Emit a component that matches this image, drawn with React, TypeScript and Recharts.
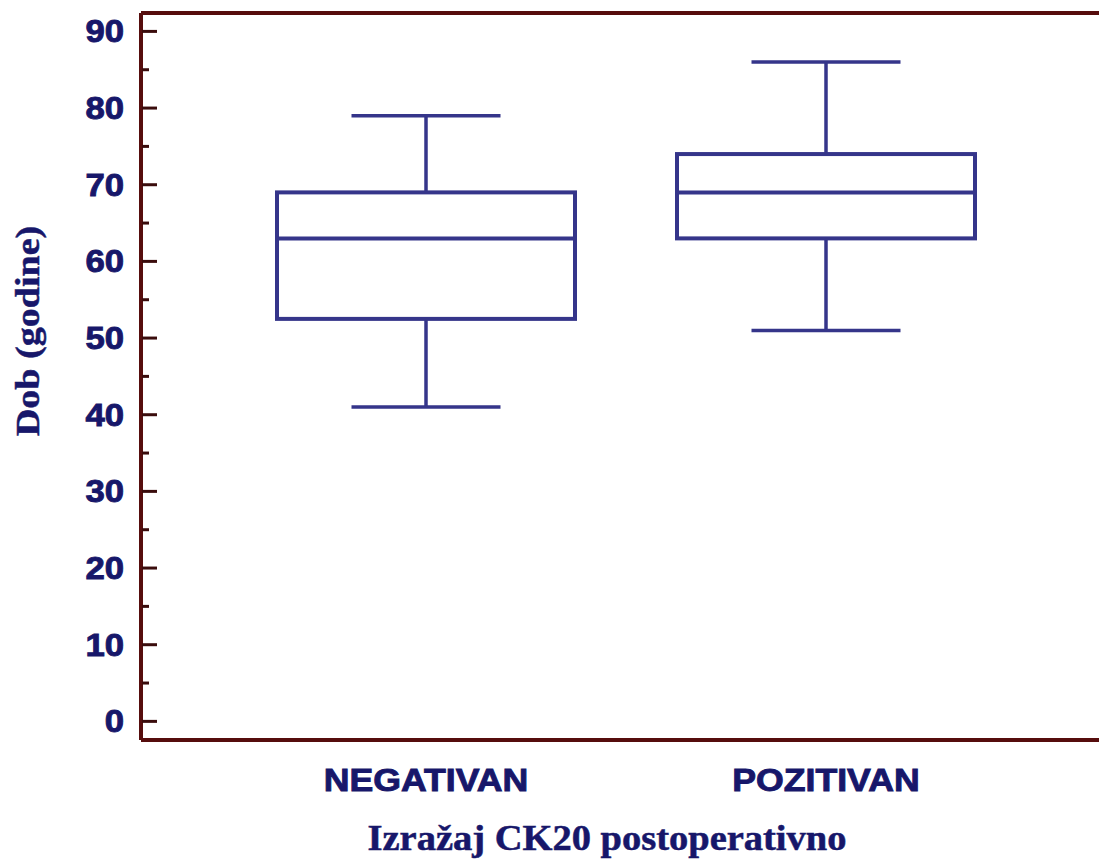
import React from 'react';
import { ComposedChart, Bar, XAxis, YAxis, ReferenceLine } from 'recharts';

// Age (years) by postoperative CK20 expression — box & whisker summary
const groups = ['NEGATIVAN', 'POZITIVAN'];
const minimum = [41, 51];
const lowerQuartile = [52.5, 63];
const median = [63, 69];
const upperQuartile = [69, 74];
const maximum = [79, 86];

const yTicks = [0, 5, 10, 15, 20, 25, 30, 35, 40, 45, 50, 55, 60, 65, 70, 75, 80, 85, 90];
const yDomain: [number, number] = [-2.43, 92.4];

const data = groups.map((name, i) => ({
  name,
  range: [minimum[i], maximum[i]],
  min: minimum[i],
  q1: lowerQuartile[i],
  med: median[i],
  q3: upperQuartile[i],
  max: maximum[i],
}));

const NAVY = '#17176a';
const BOX = '#35358a';
const FRAME = '#560d0d';
const TICK = '#3a0c0c';
const AXIS_X = 141;
const SANS = '"Liberation Sans", Arial, sans-serif';
const SERIF = '"Liberation Serif", "Times New Roman", serif';

function BoxShape(props: any) {
  const { x, y, width, height, index } = props;
  const d = props.payload ?? data[index];
  const top = Math.min(y, y + height);
  const h = Math.abs(height);
  const toY = (v: number) => top + ((d.max - v) / (d.max - d.min)) * h;
  const cx = x + width / 2;
  const cap = width / 4;
  const yq1 = toY(d.q1);
  const yq3 = toY(d.q3);
  return (
    <g fill="none" stroke={BOX}>
      <line x1={cx} x2={cx} y1={toY(d.max)} y2={yq3} strokeWidth={3.5} />
      <line x1={cx} x2={cx} y1={yq1} y2={toY(d.min)} strokeWidth={3.5} />
      <line x1={cx - cap} x2={cx + cap} y1={toY(d.max)} y2={toY(d.max)} strokeWidth={3.5} />
      <line x1={cx - cap} x2={cx + cap} y1={toY(d.min)} y2={toY(d.min)} strokeWidth={3.5} />
      <rect x={x} y={yq3} width={width} height={yq1 - yq3} fill="#fff" strokeWidth={4} />
      <line x1={x} x2={x + width} y1={toY(d.med)} y2={toY(d.med)} strokeWidth={4} />
    </g>
  );
}

function YTick(props: any) {
  const { y, payload } = props;
  const v = payload.value;
  const major = v % 10 === 0;
  return (
    <g>
      <line x1={AXIS_X + 1} x2={AXIS_X + (major ? 16 : 8)} y1={y} y2={y} stroke={TICK} strokeWidth={3} />
      {major && (
        <text
          transform={`translate(${AXIS_X - 17}, ${y}) scale(1.12, 1)`}
          textAnchor="end"
          dominantBaseline="central"
          fill={NAVY}
          stroke={NAVY}
          strokeWidth={0.9}
          fontFamily={SANS}
          fontWeight="bold"
          fontSize={31}
        >
          {v}
        </text>
      )}
    </g>
  );
}

function XTick(props: any) {
  const { x, y, payload } = props;
  return (
    <text
      transform={`translate(${x}, ${y + 32}) scale(1.15, 1)`}
      textAnchor="middle"
      dominantBaseline="central"
      fill={NAVY}
      stroke={NAVY}
      strokeWidth={0.9}
      fontFamily={SANS}
      fontWeight="bold"
      fontSize={31}
    >
      {payload.value}
    </text>
  );
}

export default function App() {
  return (
    <div style={{ position: 'absolute', left: 0, top: 0, width: 1099, height: 860, background: '#fff' }}>
      <ComposedChart width={1099} height={860} data={data} margin={{ top: 13, right: 0, bottom: 0, left: 0 }}>
        <XAxis
          dataKey="name"
          type="category"
          height={120}
          padding={{ left: 85, right: 73 }}
          axisLine={{ stroke: FRAME, strokeWidth: 4 }}
          tickLine={false}
          tick={<XTick />}
          label={{
            content: () => (
              <text
                transform="translate(607, 838) scale(1.1, 1)"
                textAnchor="middle"
                dominantBaseline="central"
                fill={NAVY}
                stroke={NAVY}
                strokeWidth={0.5}
                fontFamily={SERIF}
                fontWeight="bold"
                fontSize={35}
              >
                Izražaj CK20 postoperativno
              </text>
            ),
          }}
        />
        <YAxis
          type="number"
          width={AXIS_X}
          domain={yDomain}
          allowDataOverflow
          ticks={yTicks}
          interval={0}
          axisLine={{ stroke: FRAME, strokeWidth: 4 }}
          tickLine={false}
          tick={<YTick />}
          label={{
            content: () => (
              <text
                transform="translate(28, 331) rotate(-90) scale(1.12, 1)"
                textAnchor="middle"
                dominantBaseline="central"
                fill={NAVY}
                stroke={NAVY}
                strokeWidth={0.5}
                fontFamily={SERIF}
                fontWeight="bold"
                fontSize={34}
              >
                Dob (godine)
              </text>
            ),
          }}
        />
        <ReferenceLine y={yDomain[1]} stroke={FRAME} strokeWidth={4} ifOverflow="visible" />
        <Bar dataKey="range" barSize={298} fill="none" shape={<BoxShape />} isAnimationActive={false} />
      </ComposedChart>
    </div>
  );
}
